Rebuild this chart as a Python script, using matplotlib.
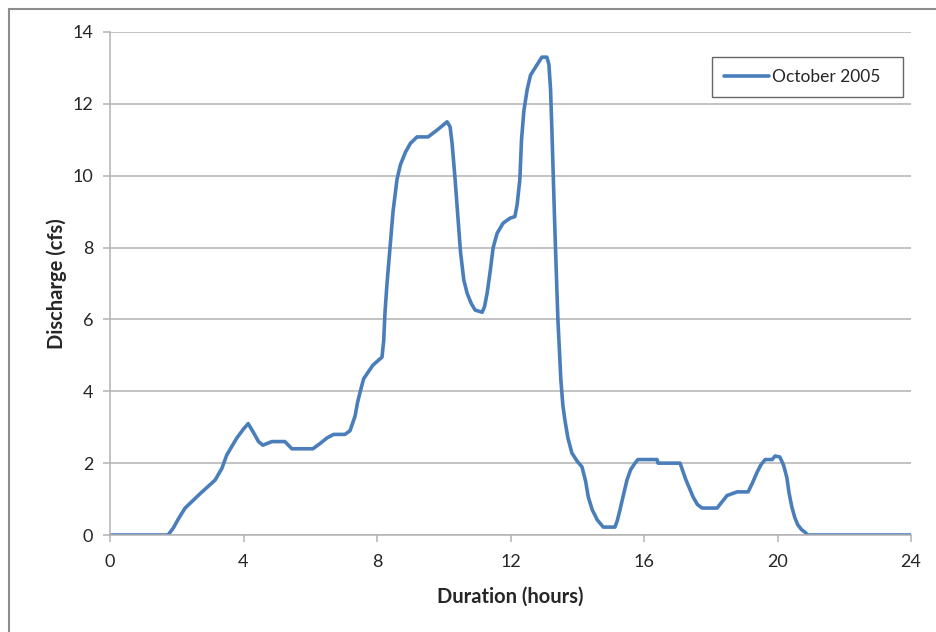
import matplotlib
matplotlib.use("Agg")
import matplotlib.pyplot as plt
from matplotlib.lines import Line2D

plt.rcParams['font.family'] = ['Lato', 'DejaVu Sans']

# Data
hours = [0.0, 1.74, 1.9, 2.05, 2.25, 2.7, 3.15, 3.35, 3.5, 3.8, 4.0, 4.14, 4.3, 4.45,
         4.58, 4.85, 5.24, 5.45, 6.08, 6.3, 6.5, 6.7, 7.04, 7.19, 7.34, 7.42, 7.5,
         7.6, 7.88, 8.15, 8.2, 8.24, 8.3, 8.39, 8.48, 8.6, 8.7, 8.85, 9.0, 9.2, 9.53,
         9.8, 10.1, 10.19, 10.25, 10.34, 10.42, 10.5, 10.6, 10.7, 10.82, 10.94, 11.15,
         11.22, 11.3, 11.4, 11.48, 11.6, 11.78, 11.99, 12.13, 12.2, 12.28, 12.33, 12.4,
         12.5, 12.6, 12.79, 12.94, 13.09, 13.15, 13.2, 13.24, 13.33, 13.42, 13.51,
         13.57, 13.63, 13.72, 13.84, 14.0, 14.14, 14.25, 14.33, 14.45, 14.6, 14.78,
         15.13, 15.2, 15.28, 15.38, 15.49, 15.6, 15.73, 15.82, 16.39, 16.42, 17.08,
         17.25, 17.47, 17.6, 17.74, 18.19, 18.49, 18.79, 19.12, 19.25, 19.38, 19.5,
         19.63, 19.84, 19.93, 20.07, 20.18, 20.28, 20.35, 20.43, 20.52, 20.61, 20.72,
         20.82, 20.9, 24.0]
discharge = [0.0, 0.0, 0.2, 0.45, 0.75, 1.15, 1.53, 1.85, 2.23, 2.7, 2.95, 3.1, 2.85, 2.6,
             2.5, 2.6, 2.6, 2.4, 2.4, 2.55, 2.7, 2.8, 2.8, 2.9, 3.3, 3.7, 4.0,
             4.35, 4.73, 4.95, 5.4, 6.2, 7.0, 8.0, 9.0, 9.9, 10.3, 10.65, 10.9, 11.08, 11.08,
             11.27, 11.5, 11.36, 10.9, 9.9, 8.9, 7.9, 7.1, 6.73, 6.45, 6.26, 6.2,
             6.35, 6.73, 7.4, 8.0, 8.4, 8.68, 8.82, 8.86, 9.2, 9.9, 11.0, 11.8,
             12.4, 12.8, 13.08, 13.3, 13.3, 13.1, 12.4, 11.27, 8.49, 6.0, 4.3,
             3.6, 3.2, 2.7, 2.28, 2.05, 1.9, 1.5, 1.06, 0.7, 0.42, 0.22,
             0.22, 0.4, 0.7, 1.1, 1.53, 1.82, 2.0, 2.1, 2.1, 2.0, 2.0,
             1.55, 1.06, 0.85, 0.75, 0.75, 1.1, 1.2, 1.2, 1.45, 1.73, 1.95,
             2.1, 2.1, 2.2, 2.17, 1.95, 1.6, 1.15, 0.78, 0.48, 0.28, 0.15,
             0.08, 0.0, 0.0]
x_ticks = [0, 4, 8, 12, 16, 20, 24]
y_ticks = [0, 2, 4, 6, 8, 10, 12, 14]

line_color = '#4a7ebb'
grid_color = '#b3b3b3'
text_color = '#262626'

fig = plt.figure(figsize=(9.36, 6.32), dpi=100)
ax = fig.add_axes([110 / 936, 1 - 535 / 632, 801 / 936, 503 / 632])

ax.plot(hours, discharge, color=line_color, linewidth=2.6, solid_joinstyle='round',
        solid_capstyle='round', label='October 2005')

ax.set_xlim(0, 24)
ax.set_ylim(0, 14)
ax.set_xticks(x_ticks)
ax.set_yticks(y_ticks)
ax.yaxis.grid(True, color=grid_color, linewidth=1.1)
ax.set_axisbelow(True)

for side in ['top', 'right']:
    ax.spines[side].set_visible(False)
for side in ['left', 'bottom']:
    ax.spines[side].set_color(grid_color)
    ax.spines[side].set_linewidth(1.1)

ax.tick_params(axis='both', direction='out', length=5, width=1.1, color=grid_color,
               labelsize=13, labelcolor=text_color)
ax.tick_params(axis='x', pad=9)
ax.tick_params(axis='y', pad=7)

ax.set_xlabel('Duration (hours)', fontsize=14.5, fontweight='bold', color=text_color,
              labelpad=12)
ax.set_ylabel('Discharge (cfs)', fontsize=14.5, fontweight='bold', color=text_color,
              labelpad=4)

# legend box stretched to the reference size (Excel leaves room right of the text)
leg = ax.legend(loc='upper left', mode='expand',
                bbox_to_anchor=(712 / 936, 1 - 97 / 632, 191 / 936, 40 / 632),
                bbox_transform=fig.transFigure, frameon=True, fancybox=False,
                fontsize=12.5, handlelength=2.6, handletextpad=0.15,
                borderpad=0.7, borderaxespad=0)
leg.get_frame().set_edgecolor('#404040')
leg.get_frame().set_linewidth(1.0)
for t in leg.get_texts():
    t.set_color(text_color)

# outer chart border (top and left only visible in the reference crop)
fig.add_artist(Line2D([8.5 / 936, 1.0], [1 - 8.5 / 632, 1 - 8.5 / 632],
                      transform=fig.transFigure, color='#8c8c8c', linewidth=1.5))
fig.add_artist(Line2D([8.5 / 936, 8.5 / 936], [0.0, 1 - 8.5 / 632],
                      transform=fig.transFigure, color='#8c8c8c', linewidth=1.5))

fig.savefig('out.png', dpi=100)
